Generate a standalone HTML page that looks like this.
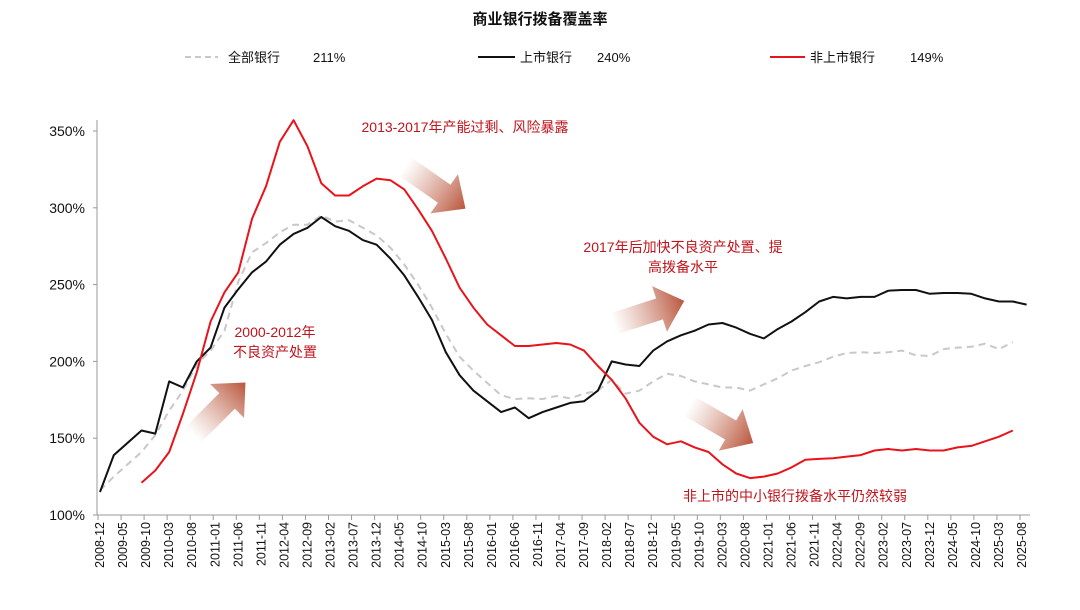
<!DOCTYPE html>
<html><head><meta charset="utf-8"><style>
body{margin:0;background:#fff;}
svg text{font-family:"Liberation Sans","Noto Sans CJK SC",sans-serif;}
</style></head><body>
<svg id="chart" width="1080" height="605" viewBox="0 0 1080 605">
<defs>
<linearGradient id="ag" x1="0" y1="0" x2="1" y2="0">
<stop offset="0" stop-color="#c87a64" stop-opacity="0"/>
<stop offset="1" stop-color="#b9553c" stop-opacity="1"/>
</linearGradient>
</defs>
<text x="540" y="24" text-anchor="middle" font-size="15" font-weight="bold" fill="#111">商业银行拨备覆盖率</text>
<g>
<g>
<line x1="185" y1="57" x2="218" y2="57" stroke="#c8c8c8" stroke-width="2" stroke-dasharray="6,4"/>
<text x="228" y="62" font-size="13" fill="#111">全部银行</text><text x="313" y="62" font-size="13" fill="#111">211%</text></g>
<g>
<line x1="478" y1="57" x2="515" y2="57" stroke="#111" stroke-width="2"/>
<text x="520" y="62" font-size="13" fill="#111">上市银行</text><text x="597" y="62" font-size="13" fill="#111">240%</text></g>
<g>
<line x1="770" y1="57" x2="805" y2="57" stroke="#e8141b" stroke-width="2"/>
<text x="810" y="62" font-size="13" fill="#111">非上市银行</text><text x="910" y="62" font-size="13" fill="#111">149%</text></g>
</g>
<g id="axes"></g>
<g id="arrows"></g>
<g id="series"></g>
<g fill="#c0141c" font-size="14">
<text x="465" y="132" text-anchor="middle">2013-2017年产能过剩、风险暴露</text>
<text x="275" y="337" text-anchor="middle">2000-2012年</text>
<text x="275" y="357" text-anchor="middle">不良资产处置</text>
<text x="683" y="252" text-anchor="middle">2017年后加快不良资产处置、提</text>
<text x="683" y="272" text-anchor="middle">高拨备水平</text>
<text x="795" y="501" text-anchor="middle">非上市的中小银行拨备水平仍然较弱</text>
</g>
</svg>
<script>
const startLabel = ['2008-12'];
const allBanks = [116,125,133,141,152,168,181,198,207,220,252,271,277,284,289,289,295,291,292,287,282,274,263,250,235,218,203,194,186,178,175.5,176,175.5,177.5,176,179,181,188,179,181,187,192,190.5,187,185,183,183,181,185,189,194,197,199.5,203,205.5,206,205.5,206,207,204,203.5,208,209,209.5,211.5,208,212.5];
const listedBanks = [115,139,147,155,153,187,183,200,209,235,247,258,265,276,283,287,294,288,285,279,276,267,256,242,227,206,191,181,174,167,170,163,167,170,173,174,181,200,198,197,207,213,217,220,224,225,222,218,215,221,226,232,239,242,241,242,242,246,246.5,246.5,244,244.5,244.5,244,241,239,239,237];
const unlistedBanks = [121,129,141,166,193,226,245,258,293,314,343,357,340,316,308,308,314,319,318,312,299,285,267,248,235,224,217,210,210,211,212,211,207,197,188,176,160,151,146,148,144,141,133,127,124,125,127,131,136,136.5,137,138,139,142,143,142,143,142,142,144,145,148,151,155];
const unlistedStartQuarter = 3;
const yTicks = [100,150,200,250,300,350];
const NS='http://www.w3.org/2000/svg';
const x0=100, pxPerMonth=4.61, yBase=515, pxPerPct=1.536;
const xScale = m => x0 + m*pxPerMonth;
const yScale = v => yBase - (v-100)*pxPerPct;
function mk(tag, attrs, parent){const e=document.createElementNS(NS,tag);for(const k in attrs)e.setAttribute(k,attrs[k]);parent.appendChild(e);return e;}
const axes=document.getElementById('axes');
const yAxis=mk('line',{x1:97,y1:120,x2:97,y2:515,stroke:'#999','stroke-width':1},axes);


const xAxis=mk('line',{x1:97,y1:515,x2:1030,y2:515,stroke:'#999','stroke-width':1},axes);


yTicks.forEach(v=>{
  const y=yScale(v);
  mk('line',{x1:93,y1:y,x2:97,y2:y,stroke:'#999'},axes);
  const t=mk('text',{x:85,y:y+5,'text-anchor':'end','font-size':14,fill:'#111'},axes);
  t.textContent=v+'%';
  
  
});
const [sy,sm]=startLabel[0].split('-').map(Number);
for(let i=0;i<=40;i++){
  const m=i*5, x=xScale(m);
  mk('line',{x1:x-2,y1:515,x2:x-2,y2:520,stroke:'#999'},axes);
  const tot=sy*12+(sm-1)+m, yy=Math.floor(tot/12), mm=tot%12+1;
  const t=mk('text',{transform:`translate(${x+4},522) rotate(-90)`,'text-anchor':'end','font-size':12.5,fill:'#111'},axes);
  t.textContent=yy+'-'+String(mm).padStart(2,'0');
  
  
}
const arrows=document.getElementById('arrows');
[[220,408,-45],[436,188,35],[650,312,-18],[722,425,30]].forEach(([cx,cy,r])=>{
  const p=mk('polygon',{points:'-38,-11 10,-11 10,-24 36,0 10,24 10,11 -38,11',fill:'url(#ag)',transform:`translate(${cx},${cy}) rotate(${r})`},arrows);
  
  
});
const series=document.getElementById('series');
function line(vals, startQ, color, dash, name){
  const pts=vals.map((v,i)=>xScale((i+startQ)*3).toFixed(1)+','+yScale(v).toFixed(1)).join(' ');
  const a={points:pts,fill:'none',stroke:color,'stroke-width':2,'stroke-linejoin':'round'};
  if(dash)a['stroke-dasharray']=dash;
  const p=mk('polyline',a,series);
  
  
}
line(allBanks,0,'#c8c8c8','7,5','series-all-banks');
line(listedBanks,0,'#111','', 'series-listed-banks');
line(unlistedBanks,unlistedStartQuarter,'#e8141b','','series-unlisted-banks');
</script>
</body></html>
